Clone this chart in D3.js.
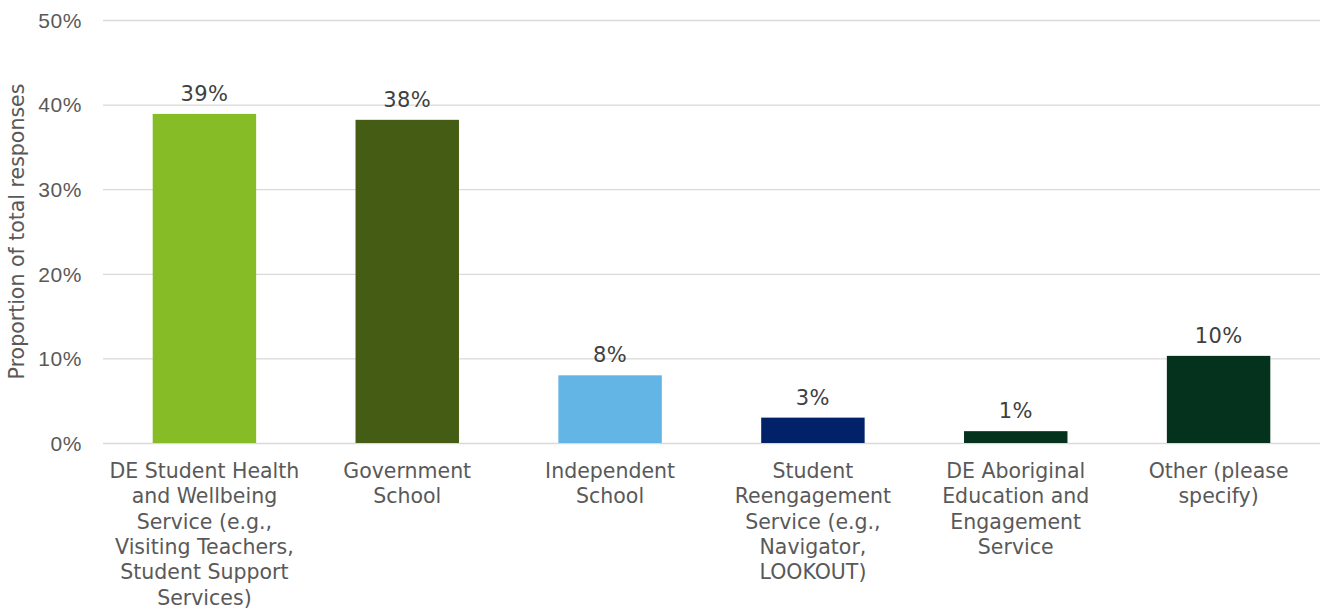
<!DOCTYPE html>
<html>
<head>
<meta charset="utf-8">
<script src="https://cdn.jsdelivr.net/npm/d3@7/dist/d3.min.js"></script>
<style>
  html, body { margin: 0; padding: 0; background: #fff; }
  svg { display: block; font-family: "DejaVu Sans", Verdana, sans-serif; }
</style>
</head>
<body>
<svg id="chart" width="1321" height="610"></svg>
<script>
// Where respondents were referred from (share of total responses)
const categories = [
  "DE Student Health and Wellbeing Service (e.g., Visiting Teachers, Student Support Services)",
  "Government School",
  "Independent School",
  "Student Reengagement Service (e.g., Navigator, LOOKOUT)",
  "DE Aboriginal Education and Engagement Service",
  "Other (please specify)"
];
const categoryLines = [
  ["DE Student Health", "and Wellbeing", "Service (e.g.,", "Visiting Teachers,", "Student Support", "Services)"],
  ["Government", "School"],
  ["Independent", "School"],
  ["Student", "Reengagement", "Service (e.g.,", "Navigator,", "LOOKOUT)"],
  ["DE Aboriginal", "Education and", "Engagement", "Service"],
  ["Other (please", "specify)"]
];
const shares = [0.389, 0.382, 0.080, 0.030, 0.014, 0.103];
const barColors = ["#86bc25", "#445c14", "#62b5e5", "#012169", "#04321d", "#04321d"];
const yTicks = [0, 0.1, 0.2, 0.3, 0.4, 0.5];
const yTitle = "Proportion of total responses";

const svg = d3.select("#chart");
const margin = { left: 103, right: 1, top: 20, bottom: 167 };
const W = 1321, H = 610;
const fs = 20.5;

const x = d3.scaleBand()
  .domain(categories)
  .range([margin.left, W - margin.right])
  .paddingInner(0.49)
  .paddingOuter(0.245);

const y = d3.scaleLinear()
  .domain([0, 0.5])
  .range([H - margin.bottom, margin.top]);

const pct = d3.format(".0%");

// Gridlines and y tick labels
const yAxis = d3.axisLeft(y)
  .tickValues(yTicks)
  .tickFormat(pct)
  .tickSize(-(W - margin.right - margin.left))
  .tickPadding(21);

const gy = svg.append("g")
  .attr("transform", `translate(${margin.left},0)`)
  .call(yAxis);
gy.select(".domain").remove();
gy.selectAll(".tick line").attr("stroke", "#d9d9d9").attr("stroke-width", 1.3);
gy.selectAll(".tick text")
  .attr("fill", "#595959")
  .attr("font-size", 21)
  .attr("letter-spacing", 0.6)
  .attr("dy", "0.35em");

// Bars
svg.append("g").selectAll("rect")
  .data(shares)
  .join("rect")
  .attr("x", (d, i) => x(categories[i]))
  .attr("y", d => y(d))
  .attr("width", x.bandwidth())
  .attr("height", d => y(0) - y(d))
  .attr("fill", (d, i) => barColors[i]);

// Value labels
svg.append("g").selectAll("text")
  .data(shares)
  .join("text")
  .attr("x", (d, i) => x(categories[i]) + x.bandwidth() / 2)
  .attr("y", d => y(d) - 13)
  .attr("text-anchor", "middle")
  .attr("fill", "#404040")
  .attr("font-size", 21)
  .attr("letter-spacing", 0.4)
  .text(d => pct(d));

// Category labels (wrapped)
const gx = svg.append("g");
categories.forEach((c, i) => {
  const t = gx.append("text")
    .attr("x", x(c) + x.bandwidth() / 2)
    .attr("y", 478)
    .attr("text-anchor", "middle")
    .attr("fill", "#595959")
    .attr("font-size", fs);
  categoryLines[i].forEach((line, j) => {
    t.append("tspan")
      .attr("x", x(c) + x.bandwidth() / 2)
      .attr("dy", j === 0 ? 0 : 25.3)
      .text(line);
  });
});

// Y axis title
svg.append("text")
  .attr("transform", `translate(24,${(y(0) + y(0.5)) / 2}) rotate(-90)`)
  .attr("text-anchor", "middle")
  .attr("fill", "#595959")
  .attr("font-size", fs)
  .text(yTitle);
</script>
</body>
</html>
